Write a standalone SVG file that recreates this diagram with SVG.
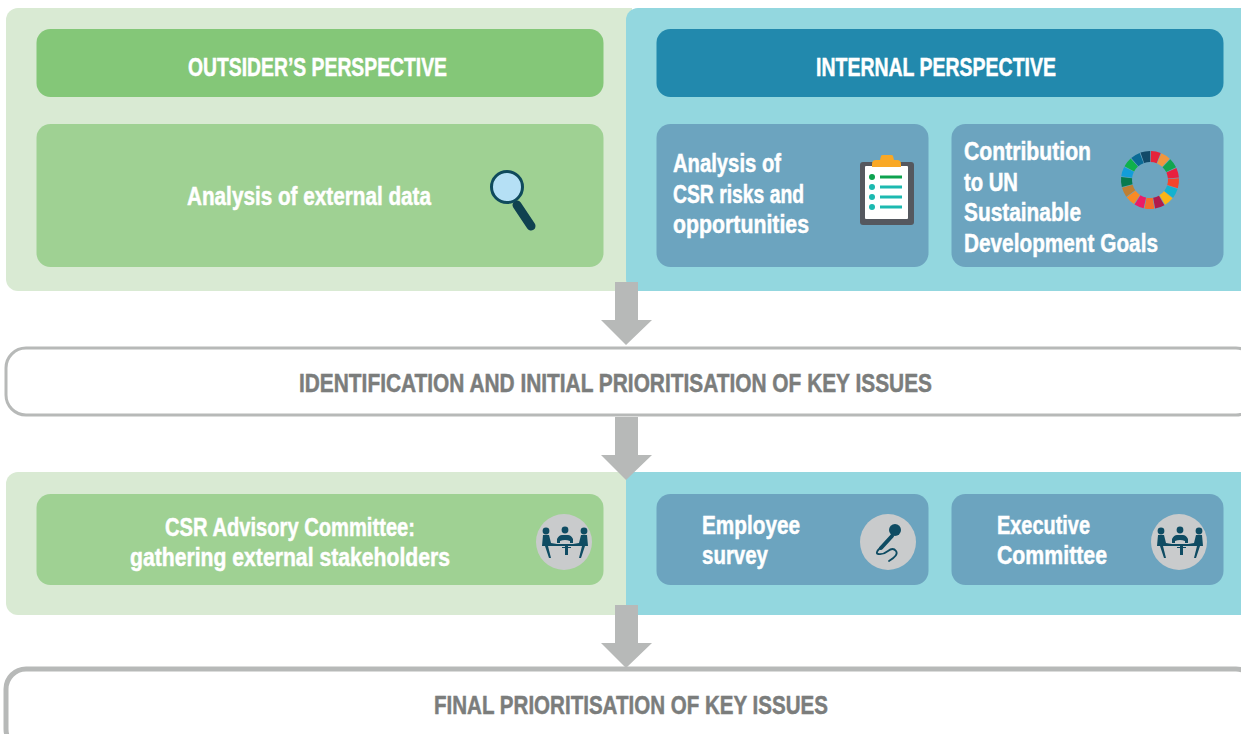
<svg xmlns="http://www.w3.org/2000/svg" width="1241" height="734" viewBox="0 0 1241 734">
<style>
text{font-family:"Liberation Sans",Arial,sans-serif;font-weight:700;font-size:26px;stroke-width:.5}
.w{fill:#fff;stroke:#fff}.g{fill:#7b7d7c;stroke:#7b7d7c}
.pl{fill:#d9ead3}.pb{fill:#93d7df}.bg{fill:#9fd193}.bb{fill:#6ca4bf}
.c{fill:#c9cbcc}.d{fill:#0f4c63}
.seg{fill:none;stroke-width:11;stroke-dasharray:.93 16.07}
.ln{stroke:#0f4c63;fill:none;stroke-linecap:round}
</style>
<defs>
<g id="meet">
<circle class="c" r="28"/>
<circle class="d" cx="-18" cy="-11" r="3.4"/><circle class="d" cx="1" cy="-12" r="3.4"/><circle class="d" cx="20" cy="-11" r="3.4"/>
<path class="d" d="M-21-7h6l2 8 6 1v2h-9l3 12h-2l-4-12h-3z"/>
<path class="d" d="M23-7h-6l-2 8-6 1v2h9l-3 12h2l4-12h3z"/>
<path class="d" d="M-7 1v-4q2-4 5-4h6q3 0 5 4v4h-3v-2q-5-2-10 0v2z"/>
<path class="d" d="M-11 2h24v2h-9v1h3v1h-3v7h-3v-7h-3v-1h3v-1h-12z"/>
</g>
</defs>
<g id="panel-top">
<path class="pl" d="M18 8H632V291H18a12 12 0 0 1-12-12V20a12 12 0 0 1 12-12z"/>
<path class="pb" d="M638 8H1241V291H638a12 12 0 0 1-12-12V20a12 12 0 0 1 12-12z"/>
</g>
<g id="panel-bottom">
<path class="pl" d="M18 472H632V615H18a12 12 0 0 1-12-12V484a12 12 0 0 1 12-12z"/>
<path class="pb" d="M626 472H1241V615H626z"/>
</g>
<g id="connectors" fill="#b7b9b8">
<path d="M615 282h23v38h14l-26 25-25-25h14z"/>
<path d="M615 417h23v38h14l-26 25-25-25h14z"/>
<path d="M615 605h23v38h14l-26 25-25-25h14z"/>
</g>
<g id="outsider">
<rect x="36.500" y="29" width="567" height="68" rx="14" fill="#84c778"/>
<text class="w" x="188" y="76" textLength="259" lengthAdjust="spacingAndGlyphs">OUTSIDER’S PERSPECTIVE</text>
</g>
<g id="internal">
<rect x="656.500" y="29" width="567" height="68" rx="14" fill="#2289ad"/>
<text class="w" x="816" y="76" textLength="240" lengthAdjust="spacingAndGlyphs">INTERNAL PERSPECTIVE</text>
</g>
<g id="external-data">
<rect class="bg" x="36.500" y="124" width="567" height="143" rx="14"/>
<text class="w" x="187" y="205" textLength="244" lengthAdjust="spacingAndGlyphs">Analysis of external data</text>
<line x1="517" y1="205" x2="531" y2="226" stroke="#0f4250" stroke-width="9" stroke-linecap="round"/>
<circle cx="507" cy="187" r="15.500" fill="#b5e0f5" stroke="#0f4a5c" stroke-width="3"/>
</g>
<g id="csr-risks">
<rect class="bb" x="656.500" y="124" width="272" height="143" rx="14"/>
<text class="w" x="673" y="172" textLength="108" lengthAdjust="spacingAndGlyphs">Analysis of</text>
<text class="w" x="673" y="203" textLength="131" lengthAdjust="spacingAndGlyphs">CSR risks and</text>
<text class="w" x="673" y="233" textLength="136" lengthAdjust="spacingAndGlyphs">opportunities</text>
<rect x="860" y="162" width="54" height="63" rx="3" fill="#55585f"/>
<rect x="865" y="166" width="43" height="53" rx="1" fill="#fff"/>
<path d="M872 167v-3q0-4 4-4h4l1-4q0-1 2-1h8q2 0 2 1l1 4h3q4 0 4 4v3z" fill="#f9a825"/>
<circle cx="872" cy="177" r="3" fill="#0da24f"/><circle cx="872" cy="187" r="3" fill="#1cb9b0"/><circle cx="872" cy="197" r="3" fill="#1cb9b0"/><circle cx="872" cy="207" r="3" fill="#1cb9b0"/>
<path d="M880 177h22" stroke="#0da24f" stroke-width="3"/>
<path d="M880 187h22M880 197h22M880 207h22" stroke="#1cb9b0" stroke-width="3"/>
</g>
<g id="sdg">
<rect class="bb" x="951.500" y="124" width="272" height="143" rx="14"/>
<text class="w" x="964" y="160" textLength="127" lengthAdjust="spacingAndGlyphs">Contribution</text>
<text class="w" x="964" y="191" textLength="54" lengthAdjust="spacingAndGlyphs">to UN</text>
<text class="w" x="964" y="221" textLength="117" lengthAdjust="spacingAndGlyphs">Sustainable</text>
<text class="w" x="964" y="252" textLength="194" lengthAdjust="spacingAndGlyphs">Development Goals</text>
<g transform="translate(1150 180) rotate(-88)">
<circle class="seg" r="23.500" pathLength="17" stroke="#e5243b"/>
<circle class="seg" r="23.500" pathLength="17" stroke="#f0963f" transform="rotate(21.18)"/>
<circle class="seg" r="23.500" pathLength="17" stroke="#12a54f" transform="rotate(42.35)"/>
<circle class="seg" r="23.500" pathLength="17" stroke="#e8203f" transform="rotate(63.53)"/>
<circle class="seg" r="23.500" pathLength="17" stroke="#f5452b" transform="rotate(84.71)"/>
<circle class="seg" r="23.500" pathLength="17" stroke="#13b2cf" transform="rotate(105.88)"/>
<circle class="seg" r="23.500" pathLength="17" stroke="#fcb515" transform="rotate(127.06)"/>
<circle class="seg" r="23.500" pathLength="17" stroke="#b01a4c" transform="rotate(148.24)"/>
<circle class="seg" r="23.500" pathLength="17" stroke="#f3702a" transform="rotate(169.41)"/>
<circle class="seg" r="23.500" pathLength="17" stroke="#eb1c67" transform="rotate(190.59)"/>
<circle class="seg" r="23.500" pathLength="17" stroke="#f98a24" transform="rotate(211.76)"/>
<circle class="seg" r="23.500" pathLength="17" stroke="#bf7f33" transform="rotate(232.94)"/>
<circle class="seg" r="23.500" pathLength="17" stroke="#067a4f" transform="rotate(254.12)"/>
<circle class="seg" r="23.500" pathLength="17" stroke="#139dd9" transform="rotate(275.29)"/>
<circle class="seg" r="23.500" pathLength="17" stroke="#0fb14b" transform="rotate(296.47)"/>
<circle class="seg" r="23.500" pathLength="17" stroke="#0a6b96" transform="rotate(317.65)"/>
<circle class="seg" r="23.500" pathLength="17" stroke="#124a68" transform="rotate(338.82)"/>
</g>
</g>
<g id="identification">
<rect x="6" y="348" width="1250" height="67" rx="20" fill="#fff" stroke="#b7b9b8" stroke-width="3"/>
<text class="g" x="299" y="392" textLength="633" lengthAdjust="spacingAndGlyphs">IDENTIFICATION AND INITIAL PRIORITISATION OF KEY ISSUES</text>
</g>
<g id="advisory">
<rect class="bg" x="36.500" y="494" width="567" height="91" rx="14"/>
<text class="w" x="165" y="536" textLength="250" lengthAdjust="spacingAndGlyphs">CSR Advisory Committee:</text>
<text class="w" x="130" y="566" textLength="320" lengthAdjust="spacingAndGlyphs">gathering external stakeholders</text>
<use href="#meet" x="564" y="542"/>
</g>
<g id="survey">
<rect class="bb" x="656.500" y="494" width="272" height="91" rx="14"/>
<text class="w" x="702" y="534" textLength="98" lengthAdjust="spacingAndGlyphs">Employee</text>
<text class="w" x="702" y="564" textLength="66" lengthAdjust="spacingAndGlyphs">survey</text>
<circle class="c" cx="888" cy="542" r="28"/>
<path class="ln" stroke-width="4" d="M892 536L881 548"/>
<circle class="d" cx="895" cy="530" r="6"/>
<path class="ln" stroke-width="1.800" d="M880 548q-5 5-2 6 5 1 10-3t8 0q3 4-7 10"/>
</g>
<g id="executive">
<rect class="bb" x="951.500" y="494" width="272" height="91" rx="14"/>
<text class="w" x="997" y="534" textLength="93" lengthAdjust="spacingAndGlyphs">Executive</text>
<text class="w" x="997" y="564" textLength="110" lengthAdjust="spacingAndGlyphs">Committee</text>
<use href="#meet" x="1179" y="542"/>
</g>
<g id="final">
<rect x="6" y="669" width="1250" height="80" rx="20" fill="#fff" stroke="#b7b9b8" stroke-width="5"/>
<text class="g" x="434" y="714" textLength="394" lengthAdjust="spacingAndGlyphs">FINAL PRIORITISATION OF KEY ISSUES</text>
</g>
</svg>
